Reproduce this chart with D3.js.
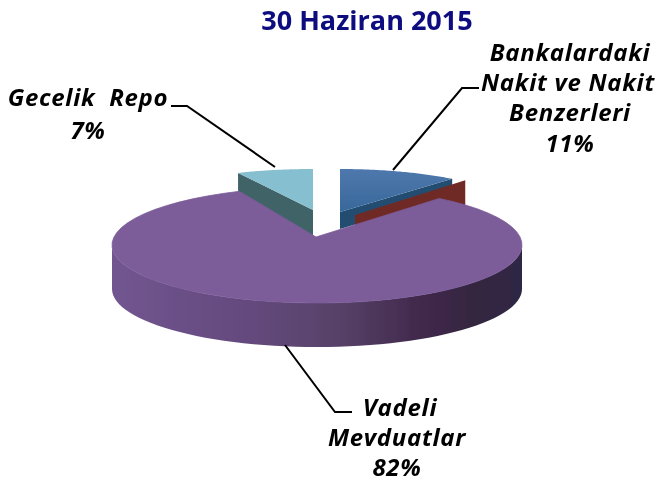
<!DOCTYPE html>
<html><head><meta charset="utf-8">
<script src="https://cdn.jsdelivr.net/npm/d3@7"></script>
<style>html,body{margin:0;padding:0;background:#fff}svg{display:block}</style>
</head><body><svg id="c" width="657" height="483"></svg>
<script>
const titleText = "30 Haziran 2015";
const categories = ["Bankalardaki Nakit ve Nakit Benzerleri", "Diğer", "Vadeli Mevduatlar", "Gecelik Repo"];
const values = [11, 0, 82, 7];
const topColors = ["#41709f", "#6f2a25", "#7b5c99", "#86bfcf"];
const wallColors = ["#234d70", "#6f2a25", "#5c4570", "#3f6468"];

const svg = d3.select("#c");
const defs = svg.append("defs");
const blur = defs.append("filter").attr("id","soft");
blur.append("feGaussianBlur").attr("stdDeviation",0.55);
const tblur = defs.append("filter").attr("id","tsoft");
tblur.append("feGaussianBlur").attr("stdDeviation",0.25);

const wg = defs.append("linearGradient").attr("id","wall");
[[0,"#725590"],[0.35,"#63497c"],[0.55,"#574268"],[0.75,"#41294c"],[0.88,"#352640"],[1,"#2e2844"]]
  .forEach(([o,c])=>wg.append("stop").attr("offset",o).attr("stop-color",c));
const bg = defs.append("linearGradient").attr("id","blueTop").attr("x1",0).attr("x2",0).attr("y1",0).attr("y2",1);
bg.append("stop").attr("offset",0).attr("stop-color","#4f78ad");
bg.append("stop").attr("offset",1).attr("stop-color","#38689b");

const arcs = d3.pie().sort(null).value(d=>d)(values);

// each slice: pivot point, rim ellipse centre, radii, extrusion depth, perspective stretch of its sweep
const geom = [
  {px:340,py:212,cx:340,cy:212,rx:176,ry:43,depth:17,stretch:1},
  {px:355,py:215,cx:355,cy:215,rx:173,ry:45,depth:30,stretch:1},
  {px:316,py:237,cx:317,cy:245,rx:205,ry:58,depth:44,stretch:1.02},
  {px:313,py:210,cx:313,cy:210,rx:176,ry:41,depth:30,stretch:1}
];
geom.forEach(g=>{
  g.x = d3.scaleLinear().domain([-1,1]).range([g.cx-g.rx,g.cx+g.rx]);
  g.y = d3.scaleLinear().domain([-1,1]).range([g.cy-g.ry,g.cy+g.ry]);
});
const rimPt = (g,a,dy=0)=>[g.x(Math.sin(a)), g.y(-Math.cos(a))+dy];
const line = d3.line();
function rim(g,a0,a1,dy=0){
  return d3.range(0,61).map(i=>rimPt(g,a0+(a1-a0)*i/60,dy));
}
const pie = svg.append("g").attr("filter","url(#soft)");
function topPath(i){
  const g=geom[i],a=arcs[i];
  const mid=(a.startAngle+a.endAngle)/2;
  const s=mid+(a.startAngle-mid)*g.stretch, e=mid+(a.endAngle-mid)*g.stretch;
  return line([[g.px,g.py],...rim(g,s,e)])+"Z";
}
function radialWall(i,ang){
  const g=geom[i],p=rimPt(g,ang);
  return line([[g.px,g.py],p,[p[0],p[1]+g.depth],[g.px,g.py+g.depth]])+"Z";
}

// Gecelik Repo
pie.append("path").attr("d",radialWall(3,arcs[3].startAngle)).attr("fill",wallColors[3]);
pie.append("path").attr("d",topPath(3)).attr("fill",topColors[3]);
// Bank wall, red sliver, bank top
pie.append("path").attr("d",radialWall(0,arcs[0].endAngle)).attr("fill",wallColors[0]);
pie.append("path").attr("d",radialWall(1,arcs[1].startAngle)).attr("fill",topColors[1]);
pie.append("path").attr("d",topPath(0)).attr("fill","url(#blueTop)");
// Vadeli: front wall then top
const gv=geom[2];
const front=[...rim(gv,Math.PI/2,Math.PI*1.5),...rim(gv,Math.PI*1.5,Math.PI/2,gv.depth)];
pie.append("path").attr("d",line(front)+"Z").attr("fill","url(#wall)");
pie.append("path").attr("d",topPath(2)).attr("fill",topColors[2]).attr("stroke",topColors[2]).attr("stroke-width",0.8);

// leader lines
const leaders=[
  [[171,106],[187,106],[275,167]],
  [[479,88],[462,88],[393,170]],
  [[285,345],[335,412],[352,412]]
];
svg.append("g").selectAll("path").data(leaders).join("path")
  .attr("d",d=>line(d)).attr("fill","none").attr("stroke","#000").attr("stroke-width",2);

// text
svg.append("text").text(titleText).attr("x",367).attr("y",30).attr("text-anchor","middle")
  .attr("font-family","'Open Sans',sans-serif").attr("font-weight",700).attr("font-size",27)
  .attr("fill","#0c0c80").attr("filter","url(#tsoft)");
const labelLines=[
  {t:"Bankalardaki",x:570,y:61},{t:"Nakit ve Nakit",x:568,y:91},{t:"Benzerleri",x:570,y:121},{t:"11%",x:570,y:152},
  {t:"Gecelik  Repo",x:88,y:106},{t:"7%",x:88,y:139},
  {t:"Vadeli",x:400,y:416},{t:"Mevduatlar",x:397,y:446},{t:"82%",x:397,y:476}
];
svg.append("g").selectAll("text").data(labelLines).join("text")
  .text(d=>d.t).attr("x",d=>d.x).attr("y",d=>d.y).attr("text-anchor","middle")
  .style("white-space","pre")
  .attr("font-family","'Open Sans',sans-serif").attr("font-style","italic").attr("font-weight",700)
  .attr("font-size",24).attr("letter-spacing",0.7).attr("fill","#000").attr("filter","url(#tsoft)");
</script></body></html>
